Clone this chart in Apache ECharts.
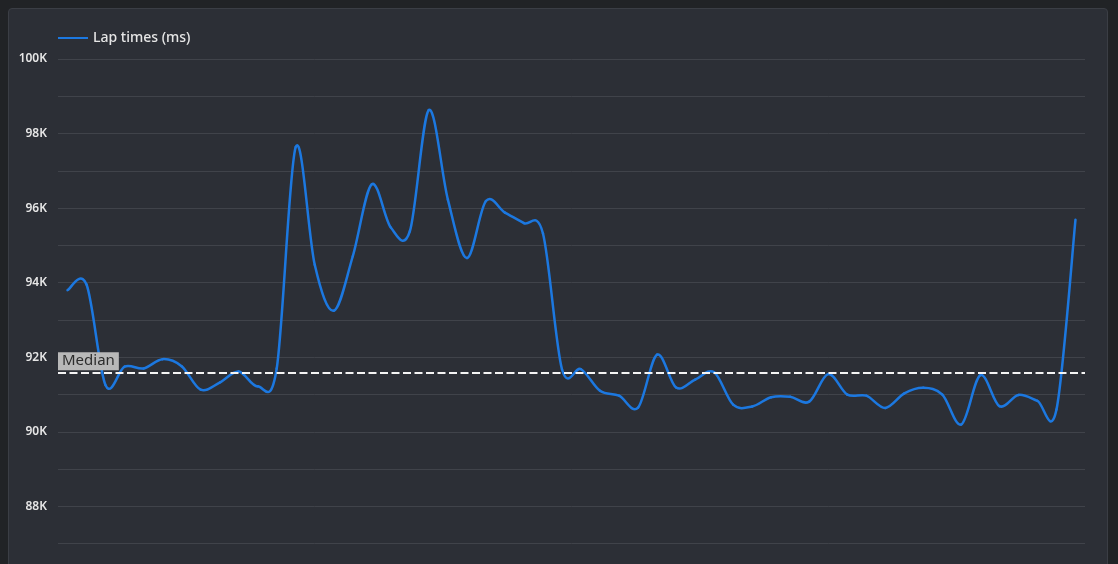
<!DOCTYPE html>
<html>
<head>
<meta charset="utf-8">
<script src="https://cdn.jsdelivr.net/npm/echarts@6/dist/echarts.min.js"></script>
<style>
  html, body { margin: 0; padding: 0; width: 1118px; height: 564px; overflow: hidden; background: #212326; }
  #panel { position: absolute; left: 8px; top: 8px; width: 1098px; height: 640px; background: #2c2f36; border: 1px solid #3b3e45; border-radius: 4px; }
  #chart { position: absolute; left: 0; top: 0; width: 1118px; height: 620px; }
</style>
</head>
<body>
<div id="panel"></div>
<div id="chart"></div>
<script>
const seriesName = 'Lap times (ms)';
const laps = [
  1, 2, 3, 4, 5, 6, 7, 8, 9, 10,
  11, 12, 13, 14, 15, 16, 17, 18, 19, 20,
  21, 22, 23, 24, 25, 26, 27, 28, 29, 30,
  31, 32, 33, 34, 35, 36, 37, 38, 39, 40,
  41, 42, 43, 44, 45, 46, 47, 48, 49, 50,
  51, 52, 53, 54
];
const lapTimes = [
  93800, 93950, 91250, 91750, 91700, 91950, 91760, 91130, 91320, 91620,
  91220, 91700, 97640, 94480, 93250, 94710, 96640, 95480, 95380, 98630,
  96230, 94660, 96190, 95880, 95600, 95320, 91680, 91680, 91100, 90970,
  90650, 92070, 91190, 91400, 91600, 90730, 90680, 90930, 90940, 90810,
  91550, 91000, 90970, 90640, 91030, 91180, 91000, 90200, 91520, 90690,
  90990, 90830, 90600, 95690
];
const yMin = 86000;
const yMax = 100000;
const yStep = 1000;
const yLabelEvery = 2000;
const medianLabel = 'Median';

const lineColor = '#1c78e0';
const font = '"Noto Sans", "Open Sans", sans-serif';
const chart = echarts.init(document.getElementById('chart'), null, { renderer: 'canvas' });

// Uniform Catmull-Rom segment between point i and i+1, positioned via the chart's own axes.
function renderSegment(params, api) {
  const i = params.dataIndex;
  const n = lapTimes.length;
  if (i >= n - 1) return null;
  const pt = function (k) {
    const kk = Math.max(0, Math.min(n - 1, k));
    return api.coord([kk, lapTimes[kk]]);
  };
  const p0 = pt(i - 1), p1 = pt(i), p2 = pt(i + 1), p3 = pt(i + 2);
  const t = 1 / 6;
  return {
    type: 'bezierCurve',
    shape: {
      x1: p1[0], y1: p1[1], x2: p2[0], y2: p2[1],
      cpx1: p1[0] + (p2[0] - p0[0]) * t, cpy1: p1[1] + (p2[1] - p0[1]) * t,
      cpx2: p2[0] - (p3[0] - p1[0]) * t, cpy2: p2[1] - (p3[1] - p1[1]) * t
    },
    style: { stroke: lineColor, lineWidth: 2.5, fill: 'none', lineCap: 'round' }
  };
}

chart.setOption({
  backgroundColor: 'transparent',
  animation: false,
  textStyle: { fontFamily: font },
  legend: {
    left: 58,
    top: 31,
    padding: 0,
    icon: 'rect',
    itemWidth: 30,
    itemHeight: 2,
    textStyle: { color: '#e6e6e6', fontSize: 14, fontWeight: 500, fontFamily: font },
    data: [{ name: seriesName, itemStyle: { color: lineColor } }]
  },
  grid: { left: 58, right: 33, top: 59, bottom: 39 },
  xAxis: {
    type: 'category',
    data: laps,
    boundaryGap: true,
    axisLine: { show: false },
    axisTick: { show: false },
    axisLabel: { show: false },
    splitLine: { show: false }
  },
  yAxis: {
    type: 'value',
    min: yMin,
    max: yMax,
    interval: yStep,
    axisLine: { show: false },
    axisTick: { show: false },
    axisLabel: {
      color: '#e6e6e6',
      fontSize: 12,
      fontWeight: 600,
      fontFamily: font,
      margin: 11,
      formatter: function (v) { return v % yLabelEvery === 0 ? (v / 1000) + 'K' : ''; }
    },
    splitLine: { show: true, lineStyle: { color: '#40434a', width: 1 } }
  },
  series: [
    {
      name: seriesName,
      type: 'custom',
      coordinateSystem: 'cartesian2d',
      data: lapTimes.map(function (v, i) { return [i, v]; }),
      encode: { x: 0, y: 1 },
      itemStyle: { color: lineColor },
      renderItem: renderSegment,
      silent: true,
      z: 3
    },
    {
      name: 'median-helper',
      type: 'line',
      data: lapTimes,
      showSymbol: false,
      symbol: 'none',
      silent: true,
      lineStyle: { opacity: 0, width: 0 },
      z: 2,
      markLine: {
        silent: true,
        symbol: 'none',
        lineStyle: { color: '#f4f4f4', type: [8, 3.5], width: 2 },
        label: {
          show: true,
          position: 'insideStartTop',
          formatter: medianLabel,
          color: '#2c2c2c',
          fontSize: 15,
          lineHeight: 16,
          fontFamily: font,
          backgroundColor: '#b8b8b8',
          padding: [1, 4, 1, 4],
          distance: [0, 3]
        },
        data: [{ type: 'median', name: medianLabel }]
      }
    }
  ]
});
</script>
</body>
</html>
